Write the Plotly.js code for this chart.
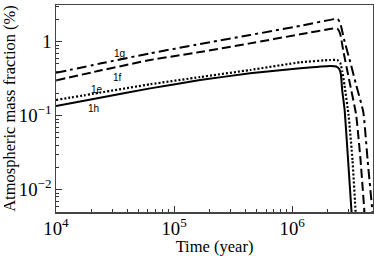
<!DOCTYPE html>
<html>
<head>
<meta charset="utf-8">
<script src="https://cdn.plot.ly/plotly-3.0.1.min.js"></script>
<style>html,body{margin:0;padding:0;background:#fff;}#chart{width:374px;height:256px;}</style>
</head>
<body>
<div id="chart"></div>
<script>
// Series 1h (solid)
const time1h = [1e4, 2.36e4, 6.27e4, 1.66e5, 4.4e5, 1.17e6, 2.1e6, 2.36e6, 2.5e6, 2.58e6, 2.65e6, 2.78e6, 2.95e6, 3.18e6, 3.3e6];
const frac1h = [0.135, 0.175, 0.234, 0.303, 0.374, 0.437, 0.47, 0.462, 0.428, 0.366, 0.222, 0.119, 0.030, 0.005, 0.0024];
// Series 1e (dotted)
const time1e = [1e4, 2.36e4, 6.27e4, 1.66e5, 4.4e5, 1.17e6, 2.1e6, 2.41e6, 2.55e6, 2.65e6, 2.77e6, 3.0e6, 3.24e6, 3.44e6, 3.53e6];
const frac1e = [0.163, 0.205, 0.266, 0.333, 0.415, 0.527, 0.566, 0.566, 0.515, 0.402, 0.26, 0.102, 0.025, 0.005, 0.0024];
// Series 1f (dashed)
const time1f = [1e4, 2.36e4, 6.27e4, 1.66e5, 4.4e5, 1.17e6, 2.31e6, 2.43e6, 2.55e6, 2.7e6, 3.04e6, 3.48e6, 3.79e6, 4.09e6, 4.24e6];
const frac1f = [0.30, 0.407, 0.566, 0.726, 0.95, 1.26, 1.52, 1.48, 1.27, 0.77, 0.30, 0.102, 0.025, 0.005, 0.0024];
// Series 1g (dash-dot)
const time1g = [1e4, 2.36e4, 6.27e4, 1.66e5, 4.4e5, 1.17e6, 2.31e6, 2.43e6, 2.55e6, 2.76e6, 3.1e6, 3.48e6, 4.0e6, 4.35e6, 4.78e6, 4.97e6];
const frac1g = [0.38, 0.506, 0.697, 0.93, 1.23, 1.64, 2.03, 2.03, 1.79, 1.05, 0.53, 0.26, 0.112, 0.025, 0.005, 0.0024];

const seriesNames = ['1h', '1e', '1f', '1g'];

const base = {type: 'scatter', mode: 'lines', hoverinfo: 'skip', showlegend: false};
const traces = [
  Object.assign({}, base, {x: time1h, y: frac1h, name: seriesNames[0],
    line: {color: '#000', width: 2, shape: 'spline', smoothing: 0.4}}),
  Object.assign({}, base, {x: time1e, y: frac1e, name: seriesNames[1],
    line: {color: '#000', width: 2.2, dash: '2px,2px', shape: 'spline', smoothing: 0.4}}),
  Object.assign({}, base, {x: time1f, y: frac1f, name: seriesNames[2],
    line: {color: '#000', width: 2, dash: '9px,4px', shape: 'spline', smoothing: 0.4}}),
  Object.assign({}, base, {x: time1g, y: frac1g, name: seriesNames[3],
    line: {color: '#000', width: 2, dash: '10px,4px,3px,4px', shape: 'spline', smoothing: 0.4}})
];

const labelPos = {
  '1g': [4.54, -0.153],
  '1f': [4.517, -0.477],
  '1e': [4.347, -0.639],
  '1h': [4.314, -0.896]
};
const annotations = Object.keys(labelPos).map(k => ({
  x: labelPos[k][0], y: labelPos[k][1], xref: 'x', yref: 'y', text: k,
  showarrow: false, font: {family: 'Liberation Sans', size: 10, color: '#000'}
}));

const serif = '"Times New Roman", "Liberation Serif", serif';
const layout = {
  width: 374, height: 256,
  margin: {l: 56, r: 1, t: 5, b: 44},
  paper_bgcolor: '#fff', plot_bgcolor: '#fff',
  font: {family: serif, color: '#000', size: 15},
  xaxis: {
    type: 'log', range: [4, 6.684], dtick: 1, exponentformat: 'power',
    ticks: 'inside', ticklen: 6, tickcolor: '#333', tickwidth: 1,
    minor: {ticks: 'inside', ticklen: 3, tickcolor: '#333', dtick: 'D1', showgrid: false},
    showline: true, linecolor: '#444', linewidth: 1.5, mirror: true,
    showgrid: false, zeroline: false,
    tickfont: {family: serif, size: 15, color: '#000'},
    title: {text: 'Time (year)', font: {family: serif, size: 16.5, color: '#000', weight: 'normal'}, standoff: 3}
  },
  yaxis: {
    type: 'log', range: [-2.301, 0.496], dtick: 1, exponentformat: 'power',
    ticks: 'inside', ticklen: 6, tickcolor: '#333', tickwidth: 1,
    minor: {ticks: 'inside', ticklen: 3, tickcolor: '#333', dtick: 'D1', showgrid: false},
    showline: true, linecolor: '#444', linewidth: 1.5, mirror: true,
    showgrid: false, zeroline: false,
    tickfont: {family: serif, size: 15, color: '#000'},
    title: {text: 'Atmospheric mass fraction (%)', font: {family: serif, size: 16.5, color: '#000', weight: 'normal'}, standoff: 3}
  },
  annotations: annotations
};

Plotly.newPlot('chart', traces, layout, {staticPlot: true, displayModeBar: false});
</script>
</body>
</html>
